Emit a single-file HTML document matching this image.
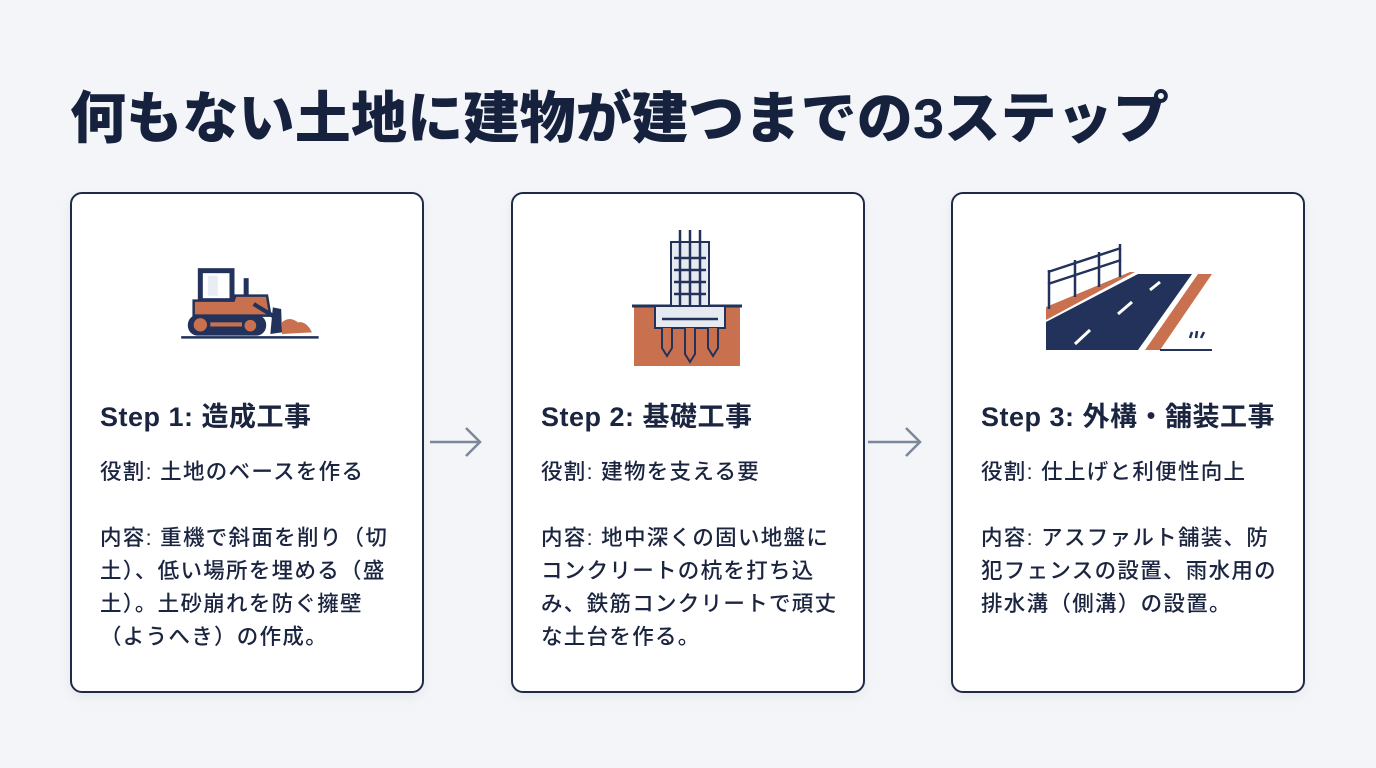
<!DOCTYPE html>
<html><head><meta charset="utf-8"><style>
body{margin:0;width:1376px;height:768px;background:#f3f5f8;font-family:"Liberation Sans","Noto Sans CJK JP",sans-serif;color:#1b2540;position:relative;overflow:hidden}
h1{position:absolute;left:70px;top:74px;margin:0;font-size:56px;font-weight:900;letter-spacing:0.2px;color:#16213d;white-space:nowrap}
.card{position:absolute;top:192px;width:350px;height:497px;border:2.5px solid #1e2a48;border-radius:12px;background:#fff;box-shadow:0 4px 12px rgba(0,0,0,0.06)}
.st{position:absolute;left:28px;top:201px;font-size:27px;font-weight:700;letter-spacing:0.5px;white-space:nowrap}
.tx{position:absolute;left:28px;top:262px;font-size:21.5px;letter-spacing:1.3px;line-height:33px;white-space:nowrap;font-weight:500}
svg.ic{position:absolute}
.arr{position:absolute;top:420px}
</style></head><body>
<h1>何もない土地に建物が建つまでの3ステップ</h1>

<div class="card" style="left:70px">
<svg class="ic" style="left:90px;top:55px" width="180" height="100" viewBox="160 230 180 120">
<rect x="188" y="256" width="38" height="36" fill="#fff" stroke="#22325a" stroke-width="6"/>
<rect x="197" y="262" width="12" height="24" fill="#e8ecf3"/>
<rect x="240" y="265" width="6" height="20" fill="#22325a"/>
<path d="M180 292 L228 292 L230 286 L268 286 L272 310 L180 310 Z" fill="#c9704f" stroke="#22325a" stroke-width="3"/>
<line x1="252" y1="296" x2="278" y2="312" stroke="#22325a" stroke-width="5"/>
<path d="M275 300 L285 302 L286 330 L272 332 Z" fill="#22325a"/>
<path d="M286 318 Q295 310 305 318 Q315 316 322 330 L286 332Z" fill="#c9704f"/>
<rect x="173" y="309" width="94" height="25" rx="12" fill="#22325a"/>
<circle cx="188" cy="321" r="8" fill="#c9704f"/><circle cx="248" cy="322" r="7" fill="#c9704f"/>
<rect x="200" y="318" width="38" height="5" fill="#c9704f"/>
<line x1="165" y1="336" x2="330" y2="336" stroke="#22325a" stroke-width="3"/>
</svg>
<div class="st">Step 1: 造成工事</div>
<div class="tx">役割: 土地のベースを作る<br><br>内容: 重機で斜面を削り（切<br>土）、低い場所を埋める（盛<br>土）。土砂崩れを防ぐ擁壁<br>（ようへき）の作成。</div>
</div>

<div class="card" style="left:511px">
<svg class="ic" style="left:109px;top:33px" width="130" height="150" viewBox="620 225 130 150">
<rect x="632" y="304" width="106" height="60" fill="#c9704f"/>
<line x1="630" y1="304" x2="740" y2="304" stroke="#22325a" stroke-width="3"/>
<rect x="669" y="240" width="38" height="66" fill="#e6ebf2" stroke="#22325a" stroke-width="2"/>
<rect x="653" y="304" width="70" height="22" fill="#e6ebf2" stroke="#22325a" stroke-width="2"/>
<g stroke="#22325a" stroke-width="2.5"><line x1="678" y1="228" x2="678" y2="304"/><line x1="688" y1="228" x2="688" y2="304"/><line x1="698" y1="228" x2="698" y2="304"/>
<line x1="672" y1="256" x2="704" y2="256"/><line x1="672" y1="268" x2="704" y2="268"/><line x1="672" y1="280" x2="704" y2="280"/><line x1="672" y1="292" x2="704" y2="292"/>
<line x1="660" y1="317" x2="716" y2="317"/></g>
<g fill="#c9704f" stroke="#22325a" stroke-width="2"><path d="M660 326v20l5 8 5-8v-20"/><path d="M683 326v26l5 8 5-8v-26"/><path d="M706 326v20l5 8 5-8v-20"/></g>
</svg>
<div class="st">Step 2: 基礎工事</div>
<div class="tx">役割: 建物を支える要<br><br>内容: 地中深くの固い地盤に<br>コンクリートの杭を打ち込<br>み、鉄筋コンクリートで頑丈<br>な土台を作る。</div>
</div>

<div class="card" style="left:951px">
<svg class="ic" style="left:77px;top:43px" width="200" height="120" viewBox="1030 235 200 120">
<path d="M1046 318 L1135 270 L1130 270 L1046 305Z" fill="#c9704f"/>
<path d="M1046 330 L1046 320 L1138 272 L1192 272 L1138 348 L1046 348Z" fill="#22325a"/>
<g stroke="#fff" stroke-width="3"><line x1="1075" y1="342" x2="1090" y2="328"/><line x1="1118" y1="312" x2="1132" y2="300"/><line x1="1150" y1="288" x2="1160" y2="280"/></g>
<path d="M1145 348 L1198 272 L1212 272 L1160 348Z" fill="#c9704f"/>
<line x1="1160" y1="348" x2="1212" y2="348" stroke="#22325a" stroke-width="2"/>
<g stroke="#22325a" stroke-width="2.5" fill="none"><line x1="1049" y1="268" x2="1049" y2="307"/><line x1="1075" y1="258" x2="1075" y2="295"/><line x1="1099" y1="250" x2="1099" y2="285"/><line x1="1120" y1="242" x2="1120" y2="275"/>
<line x1="1048" y1="270" x2="1121" y2="246"/><line x1="1048" y1="282" x2="1121" y2="258"/><line x1="1190" y1="336" x2="1192" y2="330"/><line x1="1196" y1="336" x2="1197" y2="329"/><line x1="1201" y1="336" x2="1204" y2="330"/></g>
</svg>
<div class="st">Step 3: 外構・舗装工事</div>
<div class="tx">役割: 仕上げと利便性向上<br><br>内容: アスファルト舗装、防<br>犯フェンスの設置、雨水用の<br>排水溝（側溝）の設置。</div>
</div>

<svg class="arr" style="left:428px" width="60" height="44"><path d="M2 22H52M38 8L52 22L38 36" fill="none" stroke="#7c879b" stroke-width="2.5"/></svg>
<svg class="arr" style="left:866px" width="60" height="44"><path d="M2 22H54M40 8L54 22L40 36" fill="none" stroke="#7c879b" stroke-width="2.5"/></svg>
</body></html>
